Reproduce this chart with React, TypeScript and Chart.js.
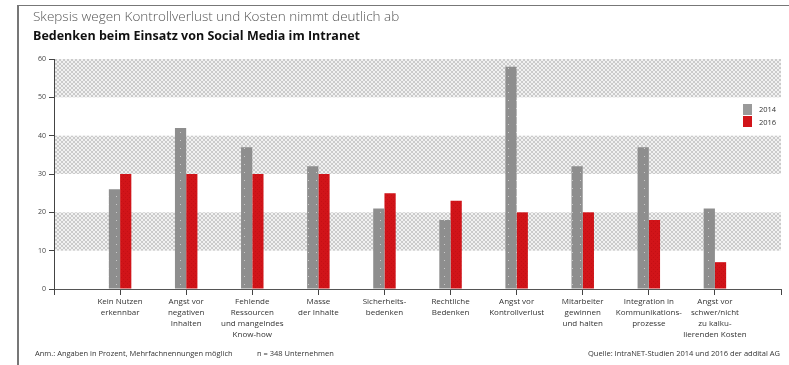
import React, { useEffect, useRef } from "react";
import { Chart, registerables } from "chart.js";

Chart.register(...registerables);

const categories: string[][] = [
  ["Kein Nutzen", "erkennbar"],
  ["Angst vor", "negativen", "Inhalten"],
  ["Fehlende", "Ressourcen", "und mangelndes", "Know-how"],
  ["Masse", "der Inhalte"],
  ["Sicherheits-", "bedenken"],
  ["Rechtliche", "Bedenken"],
  ["Angst vor", "Kontrollverlust"],
  ["Mitarbeiter", "gewinnen", "und halten"],
  ["Integration in", "Kommunikations-", "prozesse"],
  ["Angst vor", "schwer/nicht", "zu kalku-", "lierenden Kosten"],
];
const values2014: number[] = [26, 42, 37, 32, 21, 18, 58, 32, 37, 21];
const values2016: number[] = [30, 30, 30, 30, 25, 23, 20, 20, 18, 7];
const yTicks: number[] = [0, 10, 20, 30, 40, 50, 60];
const bands: [number, number][] = [[10, 20], [30, 40], [50, 60]];
const seriesNames = ["2014", "2016"];

const FONT = "'Open Sans', 'Liberation Sans', sans-serif";

function makePattern(kind: string): CanvasPattern | string {
  const c = document.createElement("canvas");
  const ctx = c.getContext("2d");
  if (!ctx) return "#999";
  if (kind === "band") {
    c.width = 4; c.height = 4;
    ctx.fillStyle = "#f1f1f1"; ctx.fillRect(0, 0, 4, 4);
    ctx.fillStyle = "#cbcbcb";
    for (let i = 0; i < 4; i++) {
      ctx.fillRect(i, i, 1, 1);
      ctx.fillRect(3 - i, i, 1, 1);
    }
  } else if (kind === "gray") {
    c.width = 8; c.height = 8;
    ctx.fillStyle = "#8e8e8e"; ctx.fillRect(0, 0, 8, 8);
    ctx.fillStyle = "#c9c9c9"; ctx.fillRect(4, 4, 1, 1);
  } else {
    c.width = 4; c.height = 4;
    ctx.fillStyle = "#d11419"; ctx.fillRect(0, 0, 4, 4);
    ctx.fillStyle = "#c40f14"; ctx.fillRect(1, 1, 1, 1); ctx.fillRect(3, 3, 1, 1);
  }
  const p = ctx.createPattern(c, "repeat");
  return p || "#999";
}

export default function App() {
  const ref = useRef<HTMLCanvasElement>(null);
  useEffect(() => {
    document.body.style.margin = "0";
    if (!ref.current) return;
    const bandPattern = makePattern("band");
    const labels: (string | string[])[] = ["", ...categories, ""];
    const d14 = [null, ...values2014, null];
    const d16 = [null, ...values2016, null];
    const bandPlugin = {
      id: "bands",
      beforeDatasetsDraw(chart: any) {
        const { ctx, chartArea } = chart;
        const y = chart.scales.y;
        ctx.save();
        ctx.fillStyle = bandPattern;
        for (const [a, b] of bands) {
          const top = y.getPixelForValue(b);
          const bot = y.getPixelForValue(a);
          ctx.fillRect(chartArea.left + 1, top, chartArea.right - chartArea.left - 1, bot - top);
        }
        ctx.restore();
      },
    };
    const chart = new Chart(ref.current, {
      type: "bar",
      data: {
        labels,
        datasets: [
          { label: seriesNames[0], data: d14 as any, backgroundColor: makePattern("gray") as any, barPercentage: 1, categoryPercentage: 0.34 },
          { label: seriesNames[1], data: d16 as any, backgroundColor: makePattern("red") as any, barPercentage: 1, categoryPercentage: 0.34 },
        ],
      },
      options: {
        animation: false,
        responsive: false,
        maintainAspectRatio: false,
        layout: { padding: { left: 30, right: 8, top: 59, bottom: 10 } },
        plugins: { legend: { display: false }, tooltip: { enabled: false }, title: { display: false } },
        scales: {
          x: {
            offset: false,
            grid: { offset: false, drawOnChartArea: false, drawTicks: true, tickLength: 6, color: "#444" },
            border: { display: true, color: "#555", dash: [2, 2], width: 1 },
            ticks: {
              autoSkip: false,
              maxRotation: 0,
              padding: 1,
              color: "#333",
              font: { family: FONT, size: 8, lineHeight: 1.4 } as any,
            },
            afterFit(scale: any) { scale.height = 66; },
          },
          y: {
            min: 0,
            max: 60,
            afterBuildTicks(scale: any) { scale.ticks = yTicks.map((v) => ({ value: v })); },
            grid: { drawOnChartArea: false, drawTicks: true, tickLength: 5, color: "#444" },
            border: { display: true, color: "#444", width: 1 },
            ticks: { padding: 3, color: "#444", font: { family: FONT, size: 7 } },
            afterFit(scale: any) { scale.width = 24; },
          },
        },
      },
      plugins: [bandPlugin],
    });
    return () => chart.destroy();
  }, []);

  const textSmall: React.CSSProperties = { position: "absolute", fontFamily: FONT, fontSize: 7.5, color: "#333", whiteSpace: "nowrap" };
  return (
    <div style={{ position: "absolute", left: 0, top: 0, width: 789, height: 365, background: "#fff", overflow: "hidden" }}>
      <div style={{ position: "absolute", left: 17, top: 5, width: 780, height: 370, borderTop: "1px solid #777", borderLeft: "2px solid #777" }} />
      <canvas ref={ref} width={789} height={365} style={{ position: "absolute", left: 0, top: 0, width: 789, height: 365 }} />
      <div style={{ position: "absolute", left: 33, top: 7, fontFamily: FONT, fontSize: 13.5, fontWeight: 300, color: "#555", whiteSpace: "nowrap" }}>
        Skepsis wegen Kontrollverlust und Kosten nimmt deutlich ab
      </div>
      <div style={{ position: "absolute", left: 33, top: 27, fontFamily: FONT, fontSize: 12.5, fontWeight: 700, color: "#111", whiteSpace: "nowrap" }}>
        Bedenken beim Einsatz von Social Media im Intranet
      </div>
      <div style={{ position: "absolute", left: 743, top: 104, width: 9, height: 11, background: "#9a9a9a" }} />
      <div style={{ ...textSmall, left: 759, top: 104 }}>{seriesNames[0]}</div>
      <div style={{ position: "absolute", left: 743, top: 116, width: 9, height: 11, background: "#d11419" }} />
      <div style={{ ...textSmall, left: 759, top: 117 }}>{seriesNames[1]}</div>
      <div style={{ ...textSmall, left: 35, top: 348 }}>Anm.: Angaben in Prozent, Mehrfachnennungen möglich</div>
      <div style={{ ...textSmall, left: 257, top: 348 }}>n = 348 Unternehmen</div>
      <div style={{ ...textSmall, right: 9, top: 348 }}>Quelle: IntraNET-Studien 2014 und 2016 der addital AG</div>
    </div>
  );
}
